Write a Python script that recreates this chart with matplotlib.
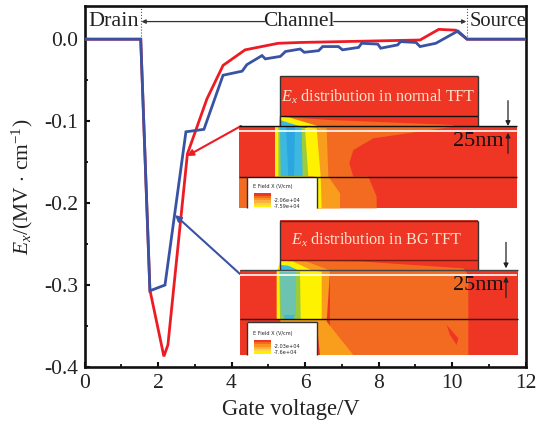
import matplotlib
matplotlib.use("Agg")
import matplotlib.pyplot as plt
from matplotlib.patches import Polygon

plt.rcParams['font.family'] = ['Liberation Serif', 'DejaVu Serif']
plt.rcParams['mathtext.fontset'] = 'custom'
plt.rcParams['mathtext.it'] = 'Liberation Serif:italic'
plt.rcParams['mathtext.rm'] = 'Liberation Serif'

blue_x = [0, 1.53, 1.78, 2.19, 2.76, 3.25, 3.77, 4.29, 4.42, 4.83, 4.92, 5.33, 5.47, 5.87, 5.98, 6.37, 6.48,
          6.91, 7.02, 7.46, 7.54, 7.98, 8.06, 8.52, 8.6, 9.02, 9.13, 9.56, 10.16, 10.41, 12]
blue_y = [0, 0, -0.307, -0.30, -0.113, -0.11, -0.044, -0.039, -0.031, -0.02, -0.024, -0.021, -0.015, -0.012,
          -0.016, -0.014, -0.009, -0.009, -0.013, -0.01, -0.005, -0.006, -0.011, -0.007, -0.003, -0.004, -0.009,
          -0.005, 0.01, 0, 0]
red_x = [0, 1.53, 1.78, 2.16, 2.27, 2.8, 3.33, 3.77, 4.37, 5.27, 5.87, 9.13, 9.64, 10.1, 10.41, 12]
red_y = [0, 0, -0.306, -0.387, -0.373, -0.14, -0.073, -0.032, -0.013, -0.005, -0.004, -0.001, 0.012, 0.011, 0, 0]
xticks = [0, 2, 4, 6, 8, 10, 12]
yticks = [0.0, -0.1, -0.2, -0.3, -0.4]

W, H = 546, 425
fig = plt.figure(figsize=(W / 100, H / 100), dpi=100)
L, R, T, B = 84.5, 525.5, 6, 367
ax = fig.add_axes([L / W, 1 - B / H, (R - L) / W, (B - T) / H])
ax.plot(red_x, red_y, color='#ED1C24', lw=2.0, solid_joinstyle='miter', zorder=3)
ax.plot(blue_x, blue_y, color='#3953A4', lw=2.0, solid_joinstyle='miter', zorder=4)
ax.set_xlim(0, 12)
ax.set_ylim(-0.4, 0.0405)
ax.set_xticks(xticks)
ax.set_xticks([1, 3, 5, 7, 9, 11], minor=True)
ax.set_yticks(yticks)
ax.set_yticklabels(['0.0', '-0.1', '-0.2', '-0.3', '-0.4'])
ax.set_yticks([-0.05, -0.15, -0.25, -0.35], minor=True)
ax.tick_params(which='major', direction='in', length=3.8, width=1.5, labelsize=15.5, color='#111111', labelcolor='#222222')
ax.tick_params(axis='y', which='major', pad=4.5)
ax.tick_params(axis='x', which='major', pad=5)
ax.tick_params(which='minor', direction='in', length=2.2, width=1.3, color='#111111')
for s in ax.spines.values():
    s.set_linewidth(1.9)
    s.set_color('#111111')
ax.set_xlabel('Gate voltage/V', fontsize=16.3, color='#222222', va='center')
ax.xaxis.set_label_coords((291 - L) / (R - L), (B - 409) / (B - T))
ax.set_ylabel(r'$E_x$/(MV $\cdot$ cm$^{-1}$)', fontsize=15.5, color='#222222', va='center')
ax.yaxis.set_label_coords((22 - L) / (R - L), (B - 187) / (B - T))

# Region annotations
for xv in [1.53, 10.41]:
    ax.plot([xv, xv], [0, 0.0405], color='#555555', lw=0.8, ls=':', zorder=2)
ax.text(0.1, 0.0215, 'Drain', fontsize=16, va='center', ha='left', color='#222222')
ax.text(10.47, 0.0215, 'Source', fontsize=14.8, va='center', ha='left', color='#222222')
ax.text(5.82, 0.0215, 'Channel', fontsize=15.5, va='center', ha='center', color='#222222')
ax.annotate('', xy=(1.55, 0.0215), xytext=(4.9, 0.0215),
            arrowprops=dict(arrowstyle='-|>', color='#333333', lw=0.9, mutation_scale=6, shrinkA=0, shrinkB=0))
ax.annotate('', xy=(10.39, 0.0215), xytext=(6.78, 0.0215),
            arrowprops=dict(arrowstyle='-|>', color='#333333', lw=0.9, mutation_scale=6, shrinkA=0, shrinkB=0))

# Overlay in pixel coordinates for the two inset pictures
ov = fig.add_axes([0, 0, 1, 1], facecolor='none')
ov.set_xlim(0, W)
ov.set_ylim(H, 0)
ov.axis('off')

RED, ORG, LOR, YEL, GRN, CYA, BLU, TEA = '#EF3624', '#F36A21', '#F99D1C', '#FFF200', '#9CCB3B', '#3DB8E0', '#2BA6E0', '#6CC4B0'

def poly(ox, oy, pts, col, z=6):
    ov.add_patch(Polygon([(ox + a / 3, oy + b / 3) for a, b in pts], closed=True, fc=col, ec='none', zorder=z))

def hl(ox, oy, x0, x1, y, col='#111111', lw=1.0, z=9):
    ov.plot([ox + x0 / 3, ox + x1 / 3], [oy + y / 3, oy + y / 3], color=col, lw=lw, zorder=z, solid_capstyle='butt')

def vl(ox, oy, x, y0, y1, col='#333333', lw=1.0, z=9):
    ov.plot([ox + x / 3, ox + x / 3], [oy + y0 / 3, oy + y1 / 3], color=col, lw=lw, zorder=z, solid_capstyle='butt')

def legend_box(ox, oy, x0, x1, y0, y1, lab1, lab2, ly):
    poly(ox, oy, [(x0, y0), (x1, y0), (x1, y1), (x0, y1)], 'white', z=8)
    vl(ox, oy, x0, y0, y1, z=9)
    vl(ox, oy, x1, y0, y1, z=9)
    ov.text(ox + 68 / 3, oy + (ly - 2) / 3, 'E Field X (V/cm)', fontsize=3.6, family='DejaVu Sans', va='center', zorder=10, color='#222222')
    cols = ['#EF3624', '#F36A21', '#F8931F', '#FBB040', '#FFD23F', '#FFF200']
    for i, c in enumerate(cols):
        poly(ox, oy, [(71, ly + 18 + i * 7), (122, ly + 18 + i * 7), (122, ly + 25 + i * 7), (71, ly + 25 + i * 7)], c, z=9)
    ov.text(ox + 132 / 3, oy + (ly + 38) / 3, lab1, fontsize=3.6, family='DejaVu Sans', va='center', zorder=10, color='#222222')
    ov.text(ox + 132 / 3, oy + (ly + 58) / 3, lab2, fontsize=3.6, family='DejaVu Sans', va='center', zorder=10, color='#222222')

def dim_arrows(ox, oy, x, top, mid, low, bottom):
    ov.annotate('', xy=(ox + x / 3, oy + mid / 3), xytext=(ox + x / 3, oy + top / 3), zorder=11,
                arrowprops=dict(arrowstyle='-|>', color='#222222', lw=0.9, mutation_scale=7, shrinkA=0, shrinkB=0))
    ov.annotate('', xy=(ox + x / 3, oy + low / 3), xytext=(ox + x / 3, oy + bottom / 3), zorder=11,
                arrowprops=dict(arrowstyle='-|>', color='#222222', lw=0.9, mutation_scale=7, shrinkA=0, shrinkB=0))

# ---- Normal TFT inset
ox, oy = 230, 70
poly(ox, oy, [(149, 17), (743, 17), (743, 170), (149, 170)], RED)
poly(ox, oy, [(27, 168), (860, 168), (860, 415), (27, 415)], RED)
poly(ox, oy, [(149, 140), (300, 150), (670, 165), (670, 170), (149, 170)], ORG)
poly(ox, oy, [(149, 140), (180, 143), (270, 170), (149, 170)], YEL, z=6.5)
poly(ox, oy, [(149, 150), (175, 158), (215, 170), (149, 170)], CYA, z=6.7)
poly(ox, oy, [(265, 170), (670, 170), (430, 205), (370, 240), (358, 280), (370, 320), (415, 320), (440, 380), (440, 415), (262, 415)], ORG)
poly(ox, oy, [(230, 170), (290, 175), (295, 320), (330, 370), (330, 415), (260, 415), (250, 320)], LOR, z=6.2)
poly(ox, oy, [(135, 170), (260, 175), (272, 320), (275, 415), (260, 415), (260, 320), (135, 320)], YEL, z=6.4)
poly(ox, oy, [(145, 170), (225, 175), (235, 320), (145, 320)], GRN, z=6.5)
poly(ox, oy, [(150, 170), (215, 175), (218, 318), (152, 318)], CYA, z=6.6)
poly(ox, oy, [(168, 170), (195, 170), (192, 318), (175, 318)], BLU, z=6.7)
poly(ox, oy, [(27, 322), (50, 322), (50, 415), (27, 415)], ORG)
hl(ox, oy, 149, 743, 139)
hl(ox, oy, 149, 743, 17, '#333333')
vl(ox, oy, 149, 17, 168)
vl(ox, oy, 743, 17, 168)
hl(ox, oy, 27, 860, 169)
hl(ox, oy, 27, 860, 320)
hl(ox, oy, 27, 860, 183, 'white', 1.2)
legend_box(ox, oy, 50, 260, 322, 415, '-2.06e+04', '-7.59e+04', 352)
ov.text(ox + 446 / 3, oy + 80 / 3, r'$E_x$ distribution in normal TFT', fontsize=11.6, color='#FBE5D0', ha='center', va='center', zorder=10)
ov.text(ox + 745 / 3, oy + 215 / 3, '25nm', fontsize=16, color='#111111', ha='center', va='center', zorder=10)
dim_arrows(ox, oy, 834, 92, 168, 188, 250)

# ---- BG TFT inset
ox, oy = 230, 215
poly(ox, oy, [(151, 16), (743, 16), (743, 166), (151, 166)], RED)
poly(ox, oy, [(30, 164), (865, 164), (865, 420), (30, 420)], RED)
poly(ox, oy, [(151, 136), (400, 140), (700, 160), (715, 180), (715, 420), (300, 420), (300, 166)], ORG)
poly(ox, oy, [(151, 136), (230, 140), (300, 166), (290, 320), (370, 420), (270, 420), (260, 322), (151, 322)], LOR, z=6.2)
poly(ox, oy, [(151, 136), (190, 140), (245, 166), (275, 170), (275, 312), (140, 312), (140, 170)], YEL, z=6.4)
poly(ox, oy, [(148, 170), (210, 170), (212, 312), (150, 312)], GRN, z=6.5)
poly(ox, oy, [(150, 170), (198, 170), (198, 300), (152, 300)], TEA, z=6.6)
poly(ox, oy, [(152, 150), (175, 152), (205, 166), (152, 166)], CYA, z=6.7)
poly(ox, oy, [(160, 300), (195, 300), (190, 312), (165, 312)], CYA, z=6.7)
poly(ox, oy, [(650, 330), (685, 370), (680, 390), (660, 360)], RED, z=6.8)
hl(ox, oy, 151, 743, 135, '#7a1a10')
hl(ox, oy, 151, 743, 17, '#333333')
vl(ox, oy, 151, 17, 164)
vl(ox, oy, 743, 17, 164)
hl(ox, oy, 30, 865, 165, '#444444')
hl(ox, oy, 30, 865, 313)
hl(ox, oy, 30, 860, 179, 'white', 1.2)
legend_box(ox, oy, 50, 260, 322, 420, '-2.03e+04', '-7.6e+04', 356)
hl(ox, oy, 50, 260, 322, '#333333')
ov.text(ox + 440 / 3, oy + 75 / 3, r'$E_x$ distribution in BG TFT', fontsize=11.6, color='#FBE5D0', ha='center', va='center', zorder=10)
ov.text(ox + 745 / 3, oy + 212 / 3, '25nm', fontsize=16, color='#111111', ha='center', va='center', zorder=10)
dim_arrows(ox, oy, 828, 82, 160, 185, 248)

# Pointers from insets to curves
ov.annotate('', xy=(187, 156), xytext=(241, 126), zorder=7,
            arrowprops=dict(arrowstyle='-|>', color='#ED1C24', lw=1.5, mutation_scale=9, shrinkA=0, shrinkB=0))
ov.annotate('', xy=(175, 215), xytext=(240, 274), zorder=7,
            arrowprops=dict(arrowstyle='-|>', color='#3953A4', lw=1.5, mutation_scale=9, shrinkA=0, shrinkB=0))

fig.savefig('out.png', dpi=100)
